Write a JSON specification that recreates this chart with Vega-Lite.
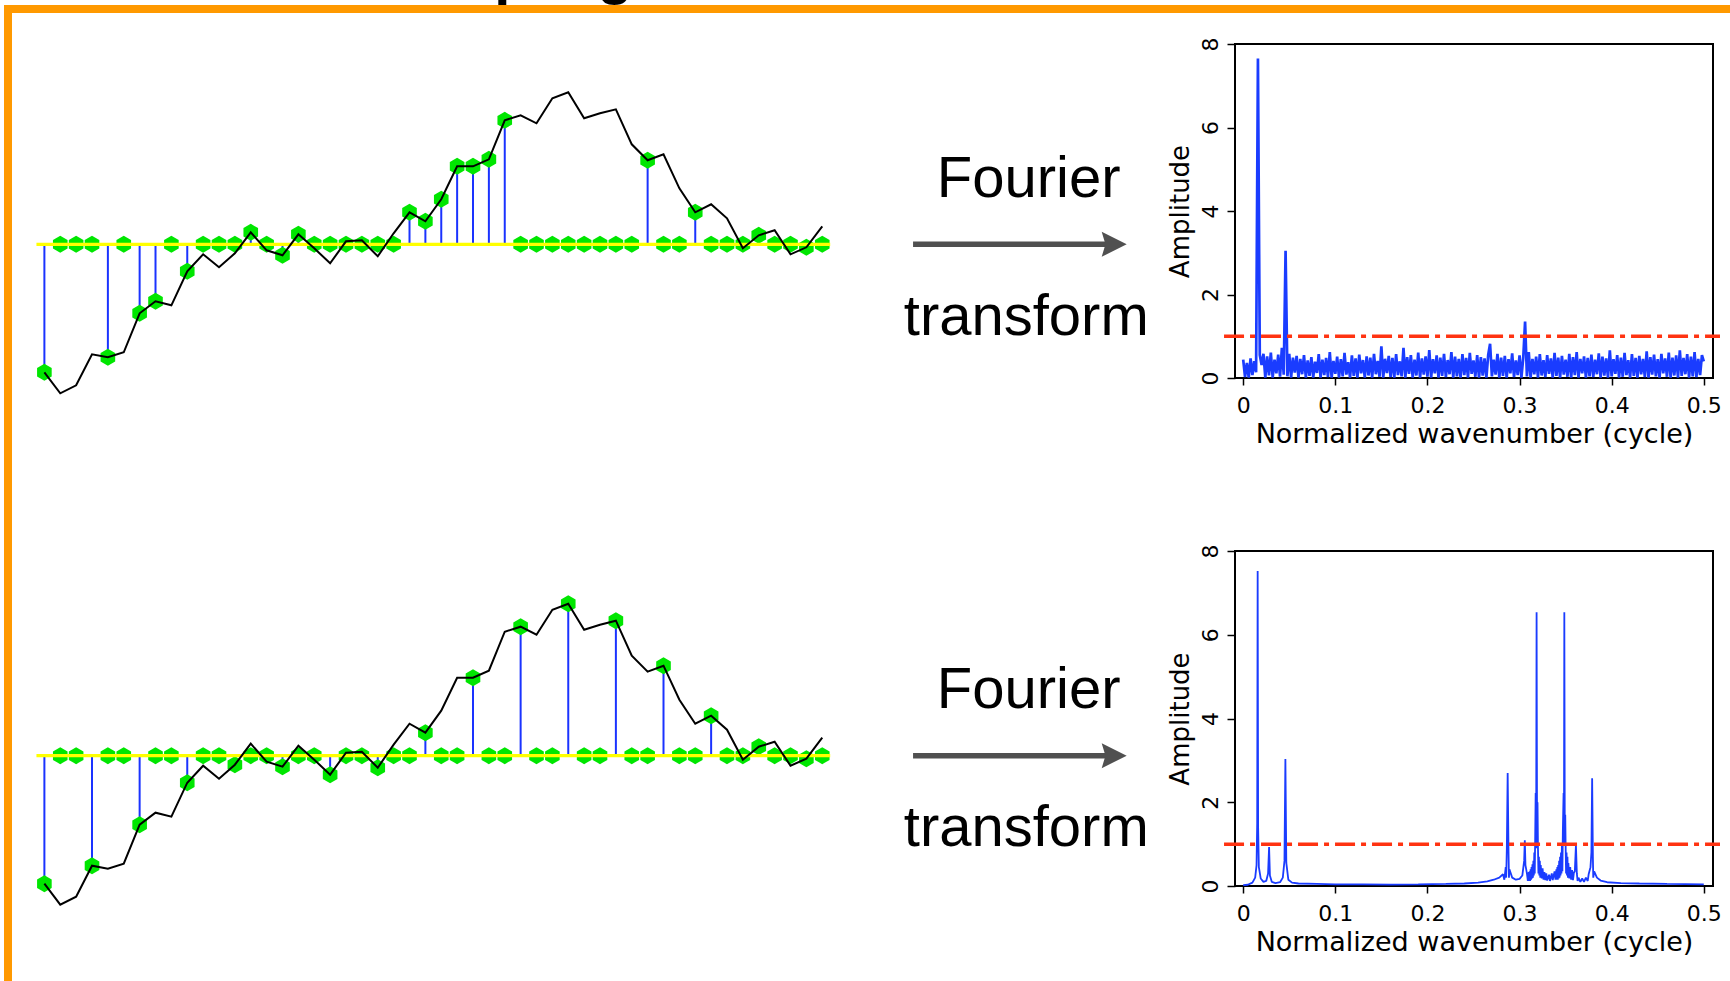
{
"$schema":"https://vega.github.io/schema/vega-lite/v6.json",
"padding":{"left":4,"top":0,"right":0,"bottom":0},
"background":"white",
"config":{"view":{"stroke":null},"concat":{"spacing":0},
"axis":{"domain":false,"grid":false,"tickColor":"black","tickWidth":1.5,"labelFont":"DejaVu Sans","labelFontSize":22,"labelColor":"black","titleFont":"DejaVu Sans","titleFontSize":26,"titleFontWeight":"normal","titleColor":"black","labelFlush":false,"labelOverlap":false}},
"datasets":{
"ts":[
{"p":"t","i":0,"v":-12.8,"m":-12.8},{"p":"t","i":1,"v":-14.9,"m":0},{"p":"t","i":2,"v":-14.1,"m":0},{"p":"t","i":3,"v":-11.0,"m":0},{"p":"t","i":4,"v":-11.3,"m":-11.3},{"p":"t","i":5,"v":-10.8,"m":0},{"p":"t","i":6,"v":-6.9,"m":-6.9},{"p":"t","i":7,"v":-5.7,"m":-5.7},{"p":"t","i":8,"v":-6.1,"m":0},{"p":"t","i":9,"v":-2.7,"m":-2.7},
{"p":"t","i":10,"v":-1.0,"m":0},{"p":"t","i":11,"v":-2.3,"m":0},{"p":"t","i":12,"v":-0.9,"m":0},{"p":"t","i":13,"v":1.2,"m":1.2},{"p":"t","i":14,"v":-0.6,"m":0},{"p":"t","i":15,"v":-1.1,"m":-1.1},{"p":"t","i":16,"v":1.0,"m":1.0},{"p":"t","i":17,"v":-0.4,"m":0},{"p":"t","i":18,"v":-1.9,"m":0},{"p":"t","i":19,"v":0.3,"m":0},
{"p":"t","i":20,"v":0.4,"m":0},{"p":"t","i":21,"v":-1.2,"m":0},{"p":"t","i":22,"v":1.1,"m":0},{"p":"t","i":23,"v":3.2,"m":3.2},{"p":"t","i":24,"v":2.3,"m":2.3},{"p":"t","i":25,"v":4.5,"m":4.5},{"p":"t","i":26,"v":7.8,"m":7.8},{"p":"t","i":27,"v":7.8,"m":7.8},{"p":"t","i":28,"v":8.5,"m":8.5},{"p":"t","i":29,"v":12.4,"m":12.4},
{"p":"t","i":30,"v":12.9,"m":0},{"p":"t","i":31,"v":12.1,"m":0},{"p":"t","i":32,"v":14.6,"m":0},{"p":"t","i":33,"v":15.2,"m":0},{"p":"t","i":34,"v":12.6,"m":0},{"p":"t","i":35,"v":13.1,"m":0},{"p":"t","i":36,"v":13.5,"m":0},{"p":"t","i":37,"v":10.0,"m":0},{"p":"t","i":38,"v":8.4,"m":8.4},{"p":"t","i":39,"v":9.0,"m":0},
{"p":"t","i":40,"v":5.6,"m":0},{"p":"t","i":41,"v":3.2,"m":3.2},{"p":"t","i":42,"v":4.0,"m":0},{"p":"t","i":43,"v":2.6,"m":0},{"p":"t","i":44,"v":-0.4,"m":0},{"p":"t","i":45,"v":0.9,"m":0.9},{"p":"t","i":46,"v":1.4,"m":0},{"p":"t","i":47,"v":-1.0,"m":0},{"p":"t","i":48,"v":-0.3,"m":-0.3},{"p":"t","i":49,"v":1.8,"m":0},
{"p":"b","i":0,"v":-12.8,"m":-12.8},{"p":"b","i":1,"v":-14.9,"m":0},{"p":"b","i":2,"v":-14.1,"m":0},{"p":"b","i":3,"v":-11.0,"m":-11.0},{"p":"b","i":4,"v":-11.3,"m":0},{"p":"b","i":5,"v":-10.8,"m":0},{"p":"b","i":6,"v":-6.9,"m":-6.9},{"p":"b","i":7,"v":-5.7,"m":0},{"p":"b","i":8,"v":-6.1,"m":0},{"p":"b","i":9,"v":-2.7,"m":-2.7},
{"p":"b","i":10,"v":-1.0,"m":0},{"p":"b","i":11,"v":-2.3,"m":0},{"p":"b","i":12,"v":-0.9,"m":-0.9},{"p":"b","i":13,"v":1.2,"m":0},{"p":"b","i":14,"v":-0.6,"m":0},{"p":"b","i":15,"v":-1.1,"m":-1.1},{"p":"b","i":16,"v":1.0,"m":0},{"p":"b","i":17,"v":-0.4,"m":0},{"p":"b","i":18,"v":-1.9,"m":-1.9},{"p":"b","i":19,"v":0.3,"m":0},
{"p":"b","i":20,"v":0.4,"m":0},{"p":"b","i":21,"v":-1.2,"m":-1.2},{"p":"b","i":22,"v":1.1,"m":0},{"p":"b","i":23,"v":3.2,"m":0},{"p":"b","i":24,"v":2.3,"m":2.3},{"p":"b","i":25,"v":4.5,"m":0},{"p":"b","i":26,"v":7.8,"m":0},{"p":"b","i":27,"v":7.8,"m":7.8},{"p":"b","i":28,"v":8.5,"m":0},{"p":"b","i":29,"v":12.4,"m":0},
{"p":"b","i":30,"v":12.9,"m":12.9},{"p":"b","i":31,"v":12.1,"m":0},{"p":"b","i":32,"v":14.6,"m":0},{"p":"b","i":33,"v":15.2,"m":15.2},{"p":"b","i":34,"v":12.6,"m":0},{"p":"b","i":35,"v":13.1,"m":0},{"p":"b","i":36,"v":13.5,"m":13.5},{"p":"b","i":37,"v":10.0,"m":0},{"p":"b","i":38,"v":8.4,"m":0},{"p":"b","i":39,"v":9.0,"m":9.0},
{"p":"b","i":40,"v":5.6,"m":0},{"p":"b","i":41,"v":3.2,"m":0},{"p":"b","i":42,"v":4.0,"m":4.0},{"p":"b","i":43,"v":2.6,"m":0},{"p":"b","i":44,"v":-0.4,"m":0},{"p":"b","i":45,"v":0.9,"m":0.9},{"p":"b","i":46,"v":1.4,"m":0},{"p":"b","i":47,"v":-1.0,"m":0},{"p":"b","i":48,"v":-0.3,"m":-0.3},{"p":"b","i":49,"v":1.8,"m":0}
],
"spec1":[
{"f":0,"a":0.44},{"f":0.002,"a":0.02},{"f":0.004,"a":0.36},{"f":0.006,"a":0.01},{"f":0.008,"a":0.47},{"f":0.010,"a":0.07},{"f":0.012,"a":0.40},{"f":0.014,"a":0.14},{"f":0.016,"a":7.65},{"f":0.018,"a":0.55},
{"f":0.020,"a":0.31},{"f":0.022,"a":0.58},{"f":0.024,"a":0.01},{"f":0.026,"a":0.52},{"f":0.028,"a":0.06},{"f":0.030,"a":0.61},{"f":0.032,"a":0.01},{"f":0.034,"a":0.44},{"f":0.036,"a":0.11},{"f":0.038,"a":0.56},
{"f":0.040,"a":0.03},{"f":0.042,"a":0.72},{"f":0.044,"a":0.08},{"f":0.046,"a":3.05},{"f":0.048,"a":0.04},{"f":0.050,"a":0.58},{"f":0.052,"a":0.01},{"f":0.054,"a":0.49},{"f":0.056,"a":0.13},{"f":0.058,"a":0.53},
{"f":0.060,"a":0.01},{"f":0.062,"a":0.46},{"f":0.064,"a":0.09},{"f":0.066,"a":0.55},{"f":0.068,"a":0.01},{"f":0.070,"a":0.42},{"f":0.072,"a":0.05},{"f":0.074,"a":0.50},{"f":0.076,"a":0.01},{"f":0.078,"a":0.39},
{"f":0.080,"a":0.12},{"f":0.082,"a":0.57},{"f":0.084,"a":0.01},{"f":0.086,"a":0.44},{"f":0.088,"a":0.07},{"f":0.090,"a":0.48},{"f":0.092,"a":0.02},{"f":0.094,"a":0.62},{"f":0.096,"a":0.01},{"f":0.098,"a":0.41},
{"f":0.100,"a":0.10},{"f":0.102,"a":0.51},{"f":0.104,"a":0.01},{"f":0.106,"a":0.45},{"f":0.108,"a":0.04},{"f":0.110,"a":0.60},{"f":0.112,"a":0.08},{"f":0.114,"a":0.38},{"f":0.116,"a":0.01},{"f":0.118,"a":0.54},
{"f":0.120,"a":0.05},{"f":0.122,"a":0.47},{"f":0.124,"a":0.01},{"f":0.126,"a":0.56},{"f":0.128,"a":0.11},{"f":0.130,"a":0.43},{"f":0.132,"a":0.01},{"f":0.134,"a":0.52},{"f":0.136,"a":0.06},{"f":0.138,"a":0.49},
{"f":0.140,"a":0.01},{"f":0.142,"a":0.58},{"f":0.144,"a":0.09},{"f":0.146,"a":0.41},{"f":0.148,"a":0.03},{"f":0.150,"a":0.76},{"f":0.152,"a":0.01},{"f":0.154,"a":0.46},{"f":0.156,"a":0.12},{"f":0.158,"a":0.53},
{"f":0.160,"a":0.02},{"f":0.162,"a":0.48},{"f":0.164,"a":0.01},{"f":0.166,"a":0.57},{"f":0.168,"a":0.07},{"f":0.170,"a":0.40},{"f":0.172,"a":0.04},{"f":0.174,"a":0.72},{"f":0.176,"a":0.01},{"f":0.178,"a":0.50},
{"f":0.180,"a":0.10},{"f":0.182,"a":0.55},{"f":0.184,"a":0.01},{"f":0.186,"a":0.44},{"f":0.188,"a":0.06},{"f":0.190,"a":0.61},{"f":0.192,"a":0.01},{"f":0.194,"a":0.47},{"f":0.196,"a":0.08},{"f":0.198,"a":0.52},
{"f":0.200,"a":0.03},{"f":0.202,"a":0.67},{"f":0.204,"a":0.01},{"f":0.206,"a":0.45},{"f":0.208,"a":0.11},{"f":0.210,"a":0.54},{"f":0.212,"a":0.01},{"f":0.214,"a":0.49},{"f":0.216,"a":0.05},{"f":0.218,"a":0.58},
{"f":0.220,"a":0.02},{"f":0.222,"a":0.43},{"f":0.224,"a":0.09},{"f":0.226,"a":0.62},{"f":0.228,"a":0.01},{"f":0.230,"a":0.51},{"f":0.232,"a":0.04},{"f":0.234,"a":0.46},{"f":0.236,"a":0.01},{"f":0.238,"a":0.57},
{"f":0.240,"a":0.07},{"f":0.242,"a":0.48},{"f":0.244,"a":0.01},{"f":0.246,"a":0.60},{"f":0.248,"a":0.10},{"f":0.250,"a":0.42},{"f":0.252,"a":0.03},{"f":0.254,"a":0.55},{"f":0.256,"a":0.01},{"f":0.258,"a":0.50},
{"f":0.260,"a":0.06},{"f":0.262,"a":0.47},{"f":0.264,"a":0.01},{"f":0.266,"a":0.56},{"f":0.268,"a":0.82},{"f":0.270,"a":0.04},{"f":0.272,"a":0.44},{"f":0.274,"a":0.08},{"f":0.276,"a":0.58},{"f":0.278,"a":0.01},
{"f":0.280,"a":0.49},{"f":0.282,"a":0.05},{"f":0.284,"a":0.53},{"f":0.286,"a":0.01},{"f":0.288,"a":0.45},{"f":0.290,"a":0.11},{"f":0.292,"a":0.59},{"f":0.294,"a":0.02},{"f":0.296,"a":0.42},{"f":0.298,"a":0.07},
{"f":0.300,"a":0.54},{"f":0.302,"a":0.01},{"f":0.304,"a":0.48},{"f":0.306,"a":1.35},{"f":0.308,"a":0.04},{"f":0.310,"a":0.62},{"f":0.312,"a":0.01},{"f":0.314,"a":0.46},{"f":0.316,"a":0.09},{"f":0.318,"a":0.51},
{"f":0.320,"a":0.01},{"f":0.322,"a":0.57},{"f":0.324,"a":0.06},{"f":0.326,"a":0.43},{"f":0.328,"a":0.02},{"f":0.330,"a":0.55},{"f":0.332,"a":0.10},{"f":0.334,"a":0.47},{"f":0.336,"a":0.01},{"f":0.338,"a":0.60},
{"f":0.340,"a":0.05},{"f":0.342,"a":0.49},{"f":0.344,"a":0.01},{"f":0.346,"a":0.53},{"f":0.348,"a":0.08},{"f":0.350,"a":0.44},{"f":0.352,"a":0.03},{"f":0.354,"a":0.58},{"f":0.356,"a":0.01},{"f":0.358,"a":0.50},
{"f":0.360,"a":0.07},{"f":0.362,"a":0.62},{"f":0.364,"a":0.01},{"f":0.366,"a":0.46},{"f":0.368,"a":0.11},{"f":0.370,"a":0.52},{"f":0.372,"a":0.01},{"f":0.374,"a":0.48},{"f":0.376,"a":0.04},{"f":0.378,"a":0.56},
{"f":0.380,"a":0.02},{"f":0.382,"a":0.44},{"f":0.384,"a":0.09},{"f":0.386,"a":0.59},{"f":0.388,"a":0.01},{"f":0.390,"a":0.51},{"f":0.392,"a":0.06},{"f":0.394,"a":0.47},{"f":0.396,"a":0.01},{"f":0.398,"a":0.66},
{"f":0.400,"a":0.04},{"f":0.402,"a":0.45},{"f":0.404,"a":0.10},{"f":0.406,"a":0.55},{"f":0.408,"a":0.01},{"f":0.410,"a":0.49},{"f":0.412,"a":0.03},{"f":0.414,"a":0.60},{"f":0.416,"a":0.07},{"f":0.418,"a":0.43},
{"f":0.420,"a":0.01},{"f":0.422,"a":0.57},{"f":0.424,"a":0.05},{"f":0.426,"a":0.48},{"f":0.428,"a":0.01},{"f":0.430,"a":0.53},{"f":0.432,"a":0.09},{"f":0.434,"a":0.46},{"f":0.436,"a":0.02},{"f":0.438,"a":0.64},
{"f":0.440,"a":0.01},{"f":0.442,"a":0.50},{"f":0.444,"a":0.08},{"f":0.446,"a":0.56},{"f":0.448,"a":0.04},{"f":0.450,"a":0.45},{"f":0.452,"a":0.01},{"f":0.454,"a":0.58},{"f":0.456,"a":0.11},{"f":0.458,"a":0.47},
{"f":0.460,"a":0.03},{"f":0.462,"a":0.61},{"f":0.464,"a":0.01},{"f":0.466,"a":0.49},{"f":0.468,"a":0.06},{"f":0.470,"a":0.54},{"f":0.472,"a":0.01},{"f":0.474,"a":0.66},{"f":0.476,"a":0.05},{"f":0.478,"a":0.48},
{"f":0.480,"a":0.09},{"f":0.482,"a":0.57},{"f":0.484,"a":0.01},{"f":0.486,"a":0.51},{"f":0.488,"a":0.04},{"f":0.490,"a":0.62},{"f":0.492,"a":0.02},{"f":0.494,"a":0.46},{"f":0.496,"a":0.07},{"f":0.498,"a":0.55},
{"f":0.500,"a":0.40}
],
"spec2":[
{"f":0,"a":0.02},{"f":0.005,"a":0.03},{"f":0.010,"a":0.08},{"f":0.013,"a":0.2},{"f":0.0145,"a":0.5},{"f":0.0152,"a":1.5},{"f":0.0157,"a":7.52},{"f":0.0162,"a":1.4},{"f":0.017,"a":0.45},{"f":0.019,"a":0.18},
{"f":0.022,"a":0.1},{"f":0.025,"a":0.12},{"f":0.027,"a":0.3},{"f":0.0281,"a":0.93},{"f":0.029,"a":0.25},{"f":0.031,"a":0.1},{"f":0.035,"a":0.07},{"f":0.040,"a":0.09},{"f":0.043,"a":0.2},{"f":0.0448,"a":0.6},
{"f":0.0458,"a":3.03},{"f":0.0468,"a":0.55},{"f":0.049,"a":0.15},{"f":0.053,"a":0.08},{"f":0.06,"a":0.06},{"f":0.08,"a":0.05},{"f":0.10,"a":0.04},{"f":0.13,"a":0.04},{"f":0.16,"a":0.035},{"f":0.19,"a":0.04},
{"f":0.22,"a":0.05},{"f":0.24,"a":0.06},{"f":0.255,"a":0.08},{"f":0.265,"a":0.11},{"f":0.272,"a":0.15},{"f":0.278,"a":0.2},{"f":0.282,"a":0.28},{"f":0.2835,"a":0.15},{"f":0.285,"a":0.45},{"f":0.2855,"a":0.2},{"f":0.2862,"a":0.9},{"f":0.2871,"a":2.70},
{"f":0.2880,"a":0.85},{"f":0.2885,"a":0.2},{"f":0.289,"a":0.4},{"f":0.292,"a":0.2},{"f":0.296,"a":0.15},{"f":0.300,"a":0.17},{"f":0.303,"a":0.25},{"f":0.3050,"a":0.6},{"f":0.3057,"a":1.09},{"f":0.3064,"a":0.5},{"f":0.308,"a":0.3},{"f":0.309,"a":0.12},
{"f":0.310,"a":0.33},{"f":0.3105,"a":0.12},{"f":0.311,"a":0.35},{"f":0.3115,"a":0.12},{"f":0.312,"a":0.4},{"f":0.3125,"a":0.15},{"f":0.313,"a":0.45},{"f":0.3135,"a":0.18},{"f":0.314,"a":0.52},{"f":0.3145,"a":0.2},{"f":0.315,"a":0.6},{"f":0.3155,"a":0.25},
{"f":0.316,"a":0.8},{"f":0.3165,"a":0.3},{"f":0.317,"a":1.2},{"f":0.3175,"a":2.22},{"f":0.3180,"a":0.9},{"f":0.3185,"a":6.54},{"f":0.3190,"a":1.1},{"f":0.3195,"a":2.0},{"f":0.320,"a":0.9},{"f":0.3205,"a":0.3},
{"f":0.321,"a":0.7},{"f":0.3215,"a":0.25},{"f":0.322,"a":0.6},{"f":0.3225,"a":0.2},{"f":0.323,"a":0.5},{"f":0.324,"a":0.18},{"f":0.325,"a":0.42},{"f":0.326,"a":0.15},{"f":0.327,"a":0.33},{"f":0.328,"a":0.14},
{"f":0.329,"a":0.3},{"f":0.330,"a":0.13},{"f":0.332,"a":0.27},{"f":0.333,"a":0.12},{"f":0.335,"a":0.3},{"f":0.336,"a":0.14},{"f":0.338,"a":0.35},{"f":0.339,"a":0.15},{"f":0.340,"a":0.4},{"f":0.3405,"a":0.15},
{"f":0.341,"a":0.45},{"f":0.3415,"a":0.15},{"f":0.342,"a":0.5},{"f":0.3425,"a":0.18},{"f":0.343,"a":0.6},{"f":0.3435,"a":0.2},{"f":0.344,"a":0.7},{"f":0.3445,"a":0.25},{"f":0.345,"a":0.8},{"f":0.3455,"a":0.3},
{"f":0.346,"a":1.0},{"f":0.3465,"a":0.35},{"f":0.347,"a":1.3},{"f":0.3478,"a":2.22},{"f":0.3482,"a":1.0},{"f":0.3486,"a":6.54},{"f":0.3491,"a":1.2},{"f":0.3496,"a":1.7},{"f":0.350,"a":1.0},{"f":0.3505,"a":0.3},
{"f":0.351,"a":0.8},{"f":0.3515,"a":0.25},{"f":0.352,"a":0.7},{"f":0.3525,"a":0.2},{"f":0.353,"a":0.55},{"f":0.354,"a":0.18},{"f":0.355,"a":0.45},{"f":0.356,"a":0.15},{"f":0.357,"a":0.38},{"f":0.358,"a":0.14},
{"f":0.359,"a":0.32},{"f":0.360,"a":0.35},{"f":0.3612,"a":0.97},{"f":0.3622,"a":0.3},{"f":0.363,"a":0.12},{"f":0.364,"a":0.2},{"f":0.366,"a":0.1},{"f":0.368,"a":0.18},{"f":0.370,"a":0.1},{"f":0.372,"a":0.2},{"f":0.374,"a":0.12},{"f":0.375,"a":0.28},
{"f":0.377,"a":0.45},{"f":0.378,"a":0.8},{"f":0.3788,"a":2.57},{"f":0.3796,"a":0.7},{"f":0.380,"a":0.2},{"f":0.381,"a":0.35},{"f":0.384,"a":0.2},{"f":0.388,"a":0.13},{"f":0.395,"a":0.09},{"f":0.41,"a":0.07},{"f":0.43,"a":0.06},
{"f":0.46,"a":0.05},{"f":0.50,"a":0.04}
]
},
"columns":3,
"align":"each",
"bounds":"flush",
"spacing":0,
"concat":[
{"width":8,"height":5,"data":{"values":[]},"mark":"point","encoding":{}},
{"width":1223,"height":5,
 "data":{"values":[{"t":"Random sampling"}]},
 "mark":{"type":"text","clip":true,"font":"Liberation Sans","fontWeight":"bold","fontSize":58,"align":"left","baseline":"alphabetic","color":"black"},
 "encoding":{"text":{"field":"t"},
  "x":{"datum":0.0965,"type":"quantitative","scale":{"domain":[0,1],"nice":false,"zero":false},"axis":null},
  "y":{"datum":2.4,"type":"quantitative","scale":{"domain":[0,1],"nice":false,"zero":false},"axis":null}}},
{"width":495,"height":5,"data":{"values":[]},"mark":"point","encoding":{}},

{"width":8,"height":8,"view":{"fill":"#ff9900","stroke":null},"data":{"values":[]},"mark":"point","encoding":{}},
{"width":1223,"height":8,"view":{"fill":"#ff9900","stroke":null},"data":{"values":[]},"mark":"point","encoding":{}},
{"width":495,"height":8,"view":{"fill":"#ff9900","stroke":null},"data":{"values":[]},"mark":"point","encoding":{}},

{"width":8,"height":31,"view":{"fill":"#ff9900","stroke":null},"data":{"values":[]},"mark":"point","encoding":{}},
{"width":1223,"height":31,"data":{"values":[]},"mark":"point","encoding":{}},
{"width":495,"height":31,"data":{"values":[]},"mark":"point","encoding":{}},

{"width":8,"height":507,"view":{"fill":"#ff9900","stroke":null},"data":{"values":[]},"mark":"point","encoding":{}},
{"width":1223,"height":507,
 "data":{"name":"ts"},
 "transform":[{"filter":"datum.p == 't'"}],
 "layer":[
  {"mark":{"type":"rule","color":"#1a33ff","strokeWidth":2},
   "encoding":{"x":{"field":"i","type":"quantitative","scale":{"domain":[-2.04,75.0],"nice":false,"zero":false},"axis":null},
    "y":{"field":"m","type":"quantitative","scale":{"domain":[-30.67,20.03],"nice":false,"zero":false},"axis":null},
    "y2":{"datum":0}}},
  {"mark":{"type":"point","shape":"M0,-1L0.866,-0.5L0.866,0.5L0,1L-0.866,0.5L-0.866,-0.5Z","filled":true,"color":"#00e600","opacity":1,"size":285},
   "encoding":{"x":{"field":"i","type":"quantitative"},"y":{"field":"m","type":"quantitative"}}},
  {"data":{"values":[{"k":"baseline"}]},"mark":{"type":"rule","color":"#ffff00","strokeWidth":3.3},
   "encoding":{"x":{"datum":-0.5},"x2":{"datum":49.5},"y":{"datum":0}}},
  {"mark":{"type":"line","color":"black","strokeWidth":2},
   "encoding":{"x":{"field":"i","type":"quantitative"},"y":{"field":"v","type":"quantitative"}}},
  {"data":{"values":[{"label":"Fourier"}]},"mark":{"type":"text","font":"Liberation Sans","fontSize":58,"align":"center","baseline":"alphabetic","color":"black"},
   "encoding":{"x":{"datum":62.0},"y":{"datum":4.76},"text":{"field":"label"}}},
  {"data":{"values":[{"label":"transform"}]},"mark":{"type":"text","font":"Liberation Sans","fontSize":58,"align":"center","baseline":"alphabetic","color":"black"},
   "encoding":{"x":{"datum":61.85},"y":{"datum":-9.07},"text":{"field":"label"}}},
  {"data":{"values":[{"k":"arrow"}]},"mark":{"type":"rule","color":"#505050","strokeWidth":5.5},
   "encoding":{"x":{"datum":54.72},"x2":{"datum":66.9},"y":{"datum":0}}},
  {"data":{"values":[{"k":"arrowhead"}]},"mark":{"type":"point","shape":"M1,0L-1,-1L-0.7,0L-1,1Z","filled":true,"color":"#505050","opacity":1,"size":625},
   "encoding":{"x":{"datum":67.39},"y":{"datum":0}}}
 ]},
{"width":478,"height":334,"view":{"stroke":"black","strokeWidth":2},
 "layer":[
  {"data":{"name":"spec1"},"mark":{"type":"line","color":"#1a3cff","strokeWidth":2.7,"strokeJoin":"bevel","clip":true},
   "encoding":{"x":{"field":"f","type":"quantitative","scale":{"domain":[-0.0089,0.51],"nice":false,"zero":false},
     "axis":{"values":[0,0.1,0.2,0.3,0.4,0.5],"labelExpr":"datum.value == 0 ? '0' : format(datum.value, '.1f')","title":"Normalized wavenumber (cycle)","titleFontSize":27,"tickSize":7,"labelPadding":10,"titlePadding":5}},
    "y":{"field":"a","type":"quantitative","scale":{"domain":[0,8],"nice":false,"zero":false},
     "axis":{"values":[0,2,4,6,8],"title":"Amplitude","tickSize":8,"labelAngle":-90,"labelAlign":"center","labelBaseline":"alphabetic","labelPadding":10,"titlePadding":6}}}},
  {"data":{"values":[{"k":"threshold"}]},"mark":{"type":"rule","color":"#ff3311","strokeWidth":3.5,"strokeDash":[20,6,5,6]},
   "encoding":{"x":{"datum":-0.0208},"x2":{"datum":0.5176},"y":{"datum":1}}}
 ]},

{"width":8,"height":430,"view":{"fill":"#ff9900","stroke":null},"data":{"values":[]},"mark":"point","encoding":{}},
{"width":1223,"height":430,
 "data":{"name":"ts"},
 "transform":[{"filter":"datum.p == 'b'"}],
 "layer":[
  {"mark":{"type":"rule","color":"#1a33ff","strokeWidth":2},
   "encoding":{"x":{"field":"i","type":"quantitative","scale":{"domain":[-2.04,75.0],"nice":false,"zero":false},"axis":null},
    "y":{"field":"m","type":"quantitative","scale":{"domain":[-22.53,20.47],"nice":false,"zero":false},"axis":null},
    "y2":{"datum":0}}},
  {"mark":{"type":"point","shape":"M0,-1L0.866,-0.5L0.866,0.5L0,1L-0.866,0.5L-0.866,-0.5Z","filled":true,"color":"#00e600","opacity":1,"size":285},
   "encoding":{"x":{"field":"i","type":"quantitative"},"y":{"field":"m","type":"quantitative"}}},
  {"data":{"values":[{"k":"baseline"}]},"mark":{"type":"rule","color":"#ffff00","strokeWidth":3.3},
   "encoding":{"x":{"datum":-0.5},"x2":{"datum":49.5},"y":{"datum":0}}},
  {"mark":{"type":"line","color":"black","strokeWidth":2},
   "encoding":{"x":{"field":"i","type":"quantitative"},"y":{"field":"v","type":"quantitative"}}},
  {"data":{"values":[{"label":"Fourier"}]},"mark":{"type":"text","font":"Liberation Sans","fontSize":58,"align":"center","baseline":"alphabetic","color":"black"},
   "encoding":{"x":{"datum":62.0},"y":{"datum":4.76},"text":{"field":"label"}}},
  {"data":{"values":[{"label":"transform"}]},"mark":{"type":"text","font":"Liberation Sans","fontSize":58,"align":"center","baseline":"alphabetic","color":"black"},
   "encoding":{"x":{"datum":61.85},"y":{"datum":-9.07},"text":{"field":"label"}}},
  {"data":{"values":[{"k":"arrow"}]},"mark":{"type":"rule","color":"#505050","strokeWidth":5.5},
   "encoding":{"x":{"datum":54.72},"x2":{"datum":66.9},"y":{"datum":0}}},
  {"data":{"values":[{"k":"arrowhead"}]},"mark":{"type":"point","shape":"M1,0L-1,-1L-0.7,0L-1,1Z","filled":true,"color":"#505050","opacity":1,"size":625},
   "encoding":{"x":{"datum":67.39},"y":{"datum":0}}}
 ]},
{"width":478,"height":335,"view":{"stroke":"black","strokeWidth":2},
 "layer":[
  {"data":{"name":"spec2"},"mark":{"type":"line","color":"#1a3cff","strokeWidth":1.8,"strokeJoin":"bevel","clip":true},
   "encoding":{"x":{"field":"f","type":"quantitative","scale":{"domain":[-0.0089,0.51],"nice":false,"zero":false},
     "axis":{"values":[0,0.1,0.2,0.3,0.4,0.5],"labelExpr":"datum.value == 0 ? '0' : format(datum.value, '.1f')","title":"Normalized wavenumber (cycle)","titleFontSize":27,"tickSize":7,"labelPadding":10,"titlePadding":5}},
    "y":{"field":"a","type":"quantitative","scale":{"domain":[0,8],"nice":false,"zero":false},
     "axis":{"values":[0,2,4,6,8],"title":"Amplitude","tickSize":8,"labelAngle":-90,"labelAlign":"center","labelBaseline":"alphabetic","labelPadding":10,"titlePadding":6}}}},
  {"data":{"values":[{"k":"threshold"}]},"mark":{"type":"rule","color":"#ff3311","strokeWidth":3.5,"strokeDash":[20,6,5,6]},
   "encoding":{"x":{"datum":-0.0208},"x2":{"datum":0.5176},"y":{"datum":1}}}
 ]}
]
}
